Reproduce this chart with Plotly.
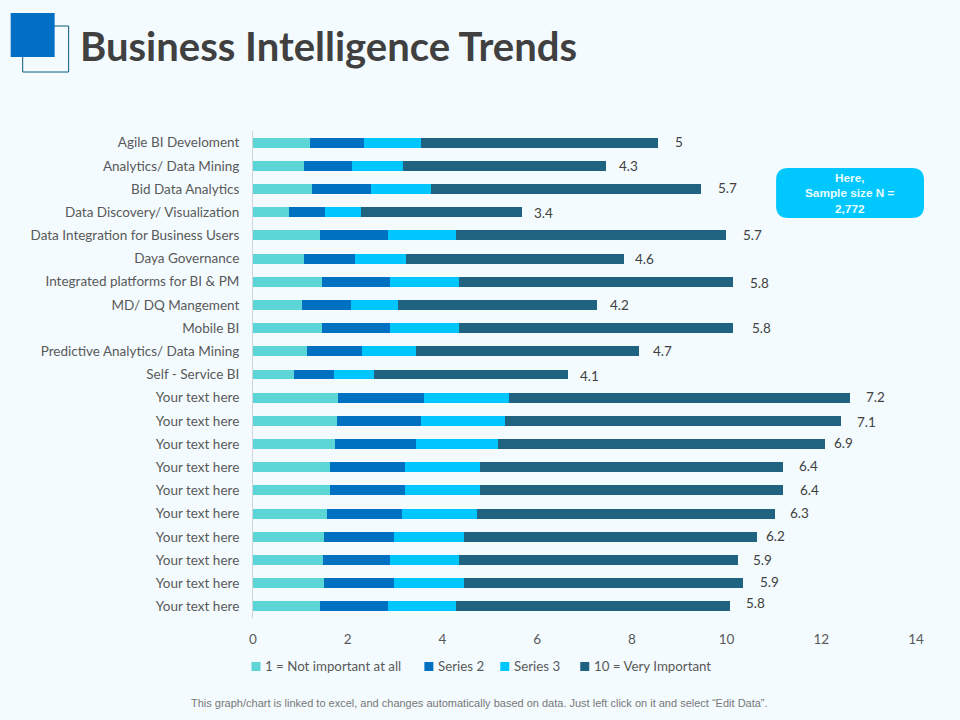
import plotly.graph_objects as go

categories = ['Agile BI Develoment', 'Analytics/ Data Mining', 'Bid Data Analytics',
              'Data Discovery/ Visualization', 'Data Integration for Business Users',
              'Daya Governance', 'Integrated platforms for BI & PM', 'MD/ DQ Mangement',
              'Mobile BI', 'Predictive Analytics/ Data Mining', 'Self - Service BI',
              'Your text here', 'Your text here', 'Your text here', 'Your text here',
              'Your text here', 'Your text here', 'Your text here', 'Your text here',
              'Your text here', 'Your text here']

not_important = [1.2, 1.07, 1.25, 0.75, 1.42, 1.08, 1.46, 1.03, 1.46, 1.15, 0.86,
                 1.8, 1.78, 1.74, 1.62, 1.62, 1.57, 1.49, 1.47, 1.49, 1.42]
series_2 = [1.15, 1.03, 1.25, 0.76, 1.43, 1.08, 1.43, 1.03, 1.43, 1.16, 0.84,
            1.81, 1.77, 1.71, 1.6, 1.6, 1.58, 1.48, 1.43, 1.48, 1.43]
series_3 = [1.2, 1.06, 1.26, 0.76, 1.44, 1.07, 1.45, 1.01, 1.45, 1.14, 0.86,
            1.79, 1.77, 1.73, 1.58, 1.58, 1.58, 1.48, 1.45, 1.48, 1.43]
very_important = [5, 4.3, 5.7, 3.4, 5.7, 4.6, 5.8, 4.2, 5.8, 4.7, 4.1,
                  7.2, 7.1, 6.9, 6.4, 6.4, 6.3, 6.2, 5.9, 5.9, 5.8]
x_ticks = [0, 2, 4, 6, 8, 10, 12, 14]
series_names = ['1 = Not important at all', 'Series 2', 'Series 3', '10 = Very Important']
series_colors = ['#5BD5D5', '#0070C0', '#00C6FF', '#1F6381']

# labels were dragged by hand in the original, so they don't sit evenly
label_dx = [21, 22, 26, 22, 26, 21, 26, 22, 28, 24, 21, 26, 25, 18, 25, 26, 24, 18, 24, 26, 25]
label_dy = [1, 0, 1, -1, 0, 0, -1, 0, 0, 0, -1, 1, -1, 1, 1, 0, 1, 1, 0, 1, 3]

WIDTH, HEIGHT = 960, 720
L, R, T, B = 252.5, 44, 131, 102
BG = '#F3FBFF'
rows = list(range(len(categories)))


# shapes in the slide are placed in pixels, plot area paper coords are awkward
def px(x):
    return (x - L) / (WIDTH - L - R)


def py(y):
    return 1 - (y - T) / (HEIGHT - T - B)


def note(x, y, text, font, xanchor='center'):
    fig.add_annotation(xref='paper', yref='paper', x=px(x), y=py(y), text=text, showarrow=False,
                       xanchor=xanchor, yanchor='middle', align='center', font=font)


fig = go.Figure()
for name, vals, color in zip(series_names, [not_important, series_2, series_3, very_important], series_colors):
    fig.add_trace(go.Bar(x=vals, y=rows, name=name, orientation='h',
                         marker=dict(color=color, line_width=0)))

totals = [a + b + c + d for a, b, c, d in zip(not_important, series_2, series_3, very_important)]
for i in rows:
    fig.add_annotation(x=totals[i], y=i, text=str(very_important[i]), showarrow=False,
                       xshift=label_dx[i], yshift=label_dy[i],
                       font=dict(family='Lato', size=13.5, color='#404040'))

fig.update_layout(
    barmode='stack', bargap=0.57, width=WIDTH, height=HEIGHT, autosize=False,
    margin=dict(l=L, r=R, t=T, b=B, pad=0),
    paper_bgcolor=BG, plot_bgcolor=BG, showlegend=False,
    font=dict(family='Lato', size=13.5, color='#595959'),
)
fig.update_xaxes(range=[0, 14], tickvals=x_ticks, showgrid=False, zeroline=False,
                 showline=False, ticks='', ticklabelstandoff=11)
fig.update_yaxes(range=[20.5, -0.5], tickvals=rows, ticktext=categories, showgrid=False,
                 zeroline=False, showline=True, linecolor='#CFD6DA', linewidth=1,
                 ticks='', ticklabelstandoff=10)

# legend by hand, plotly's swatch column is too wide for the tight spacing here
for name, color, lx in zip(series_names, series_colors, [251, 424, 500, 580]):
    fig.add_shape(type='rect', xref='paper', yref='paper', x0=px(lx), x1=px(lx + 9),
                  y0=py(662), y1=py(671), fillcolor=color, line_width=0)
    note(lx + 12, 666, name, dict(family='Lato', size=13.3, color='#595959'), xanchor='left')

# header squares
fig.add_shape(type='rect', xref='paper', yref='paper', x0=px(22), x1=px(68), y0=py(26), y1=py(72),
              fillcolor=BG, line=dict(color='#0B5A7D', width=1), layer='above')
fig.add_shape(type='rect', xref='paper', yref='paper', x0=px(10), x1=px(54), y0=py(13), y1=py(57),
              fillcolor='#006FC4', line_width=0, layer='above')
note(77, 46, '<b>Business Intelligence Trends</b>', dict(family='Lato', size=40, color='#404040'), xanchor='left')

# sample size callout
x0, x1, y0, y1 = px(776), px(924), py(168), py(218)
rx = 12 / (WIDTH - L - R)
ry = 12 / (HEIGHT - T - B)
fig.add_shape(type='path', xref='paper', yref='paper', fillcolor='#00C8FF', line_width=0,
              path=f'M {x0+rx} {y0} L {x1-rx} {y0} Q {x1} {y0} {x1} {y0-ry} L {x1} {y1+ry} '
                   f'Q {x1} {y1} {x1-rx} {y1} L {x0+rx} {y1} Q {x0} {y1} {x0} {y1+ry} '
                   f'L {x0} {y0-ry} Q {x0} {y0} {x0+rx} {y0} Z')
note(850, 193, '<b>Here,<br>Sample size N =<br>2,772</b>',
     dict(family='Liberation Sans', size=11.8, color='#EAFBFF'))

note(479, 703, 'This graph/chart is linked to excel, and changes automatically based on data. '
               'Just left click on it and select “Edit Data”.',
     dict(family='Liberation Sans', size=11, color='#777777'))

fig.write_html('out.html', post_script="document.body.style.margin='0';",
               config=dict(displayModeBar=False))
